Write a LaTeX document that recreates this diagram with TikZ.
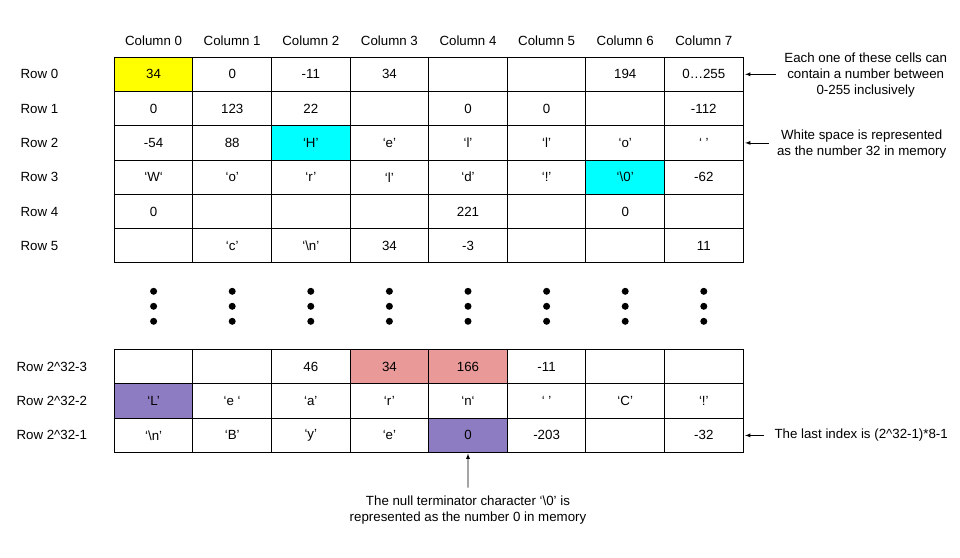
\documentclass[tikz,border=0pt]{standalone}
\usepackage{fontspec}
\setmainfont{Liberation Sans}
\usetikzlibrary{arrows}
\tikzset{>=latex}
\definecolor{hlyellow}{HTML}{FFFF00}
\definecolor{hlcyan}{HTML}{00FFFF}
\definecolor{hlred}{HTML}{EA9999}
\definecolor{hlpurple}{HTML}{8E7CC3}
\tikzset{
  txt/.style={font=\fontsize{13.3}{16}\selectfont},
  cell/.style={txt,draw,line width=1,minimum width=78.6,minimum height=34.3,inner sep=0},
  note/.style={txt,align=center},
  pointer/.style={->,line width=0.8},
}

\begin{document}
\begin{tikzpicture}[x=1pt,y=-1pt]
  \useasboundingbox (0,0) rectangle (960,557);

  % Highlights
  \fill[hlyellow] (114.3,57.3) rectangle ++(78.6,34.3);
  \fill[hlcyan] (271.5,125.9) rectangle ++(78.6,34.3);
  \fill[hlcyan] (585.9,160.2) rectangle ++(78.6,34.3);
  \fill[hlred] (350.1,349.7) rectangle ++(157.2,34.3);
  \fill[hlpurple] (114.3,384) rectangle ++(78.6,34.3);
  \fill[hlpurple] (428.7,418.3) rectangle ++(78.6,34.3);

  % Headers
  \foreach \c in {0,...,7}
    \node[txt] (col\c) at ({153.6+78.6*\c},40.7) {Column \c};
  \foreach \r in {0,...,5}
    \node[txt,anchor=west] (row\r) at (17,{74.3+34.3*\r}) {Row \r};
  \foreach \r/\k in {0/3,1/2,2/1}
    \node[txt,anchor=west] (last\r) at (13,{366.8+34.3*\r}) {Row 2\textasciicircum32-\k};

  % First rows
  \foreach \v [count=\c from 0] in {34,0,-11,34,{},{},194,0…255}
    \node[cell] (r0c\c) at ({153.6+78.6*\c},74.3) {\v};
  \foreach \v [count=\c from 0] in {0,123,22,{},0,0,{},-112}
    \node[cell] (r1c\c) at ({153.6+78.6*\c},108.6) {\v};
  \foreach \v [count=\c from 0] in {-54,88,‘H’,‘e’,‘l’,‘l’,‘o’,‘ ’}
    \node[cell] (r2c\c) at ({153.6+78.6*\c},142.9) {\v};
  \foreach \v [count=\c from 0] in {‘W‘,‘o’,‘r’,‘l’,‘d’,‘!’,‘\textbackslash0’,-62}
    \node[cell] (r3c\c) at ({153.6+78.6*\c},177.2) {\v};
  \foreach \v [count=\c from 0] in {0,{},{},{},221,{},0,{}}
    \node[cell] (r4c\c) at ({153.6+78.6*\c},211.5) {\v};
  \foreach \v [count=\c from 0] in {{},‘c’,‘\textbackslash n’,34,-3,{},{},11}
    \node[cell] (r5c\c) at ({153.6+78.6*\c},245.8) {\v};

  % Dots
  \foreach \c in {0,...,7}
    \foreach \y in {291.3,306.3,321.3}
      \fill ({153.6+78.6*\c},\y) circle (3.5);

  % Last rows
  \foreach \v [count=\c from 0] in {{},{},46,34,166,-11,{},{}}
    \node[cell] (b0c\c) at ({153.6+78.6*\c},366.8) {\v};
  \foreach \v [count=\c from 0] in {‘L’,‘e ‘,‘a’,‘r’,‘n‘,‘ ’,‘C’,‘!’}
    \node[cell] (b1c\c) at ({153.6+78.6*\c},401.1) {\v};
  \foreach \v [count=\c from 0] in {‘\textbackslash n’,‘B’,‘y’,‘e’,0,-203,{},-32}
    \node[cell] (b2c\c) at ({153.6+78.6*\c},435.4) {\v};

  % Notes
  \node[note] (cellnote) at (865.7,75) {Each one of these cells can\\contain a number between\\0-255 inclusively};
  \draw[pointer,shorten <=5pt,shorten >=1.5pt] (cellnote.west |- r0c7.east) -- (r0c7.east);
  \node[note] (spacenote) at (861.7,143.7) {White space is represented\\as the number 32 in memory};
  \draw[pointer,shorten <=5pt,shorten >=1.5pt] (spacenote.west |- r2c7.east) -- (r2c7.east);
  \node[txt,anchor=west] (lastnote) at (771,435.4) {The last index is (2\textasciicircum32-1)*8-1};
  \draw[pointer,shorten <=7pt,shorten >=1.5pt] (lastnote.west) -- (b2c7.east);
  \node[note] (nullnote) at (468,510.3) {The null terminator character ‘\textbackslash0’ is\\represented as the number 0 in memory};
  \draw[pointer,shorten <=5pt,shorten >=0.5pt] (nullnote.north) -- (b2c4.south);
\end{tikzpicture}
\end{document}
